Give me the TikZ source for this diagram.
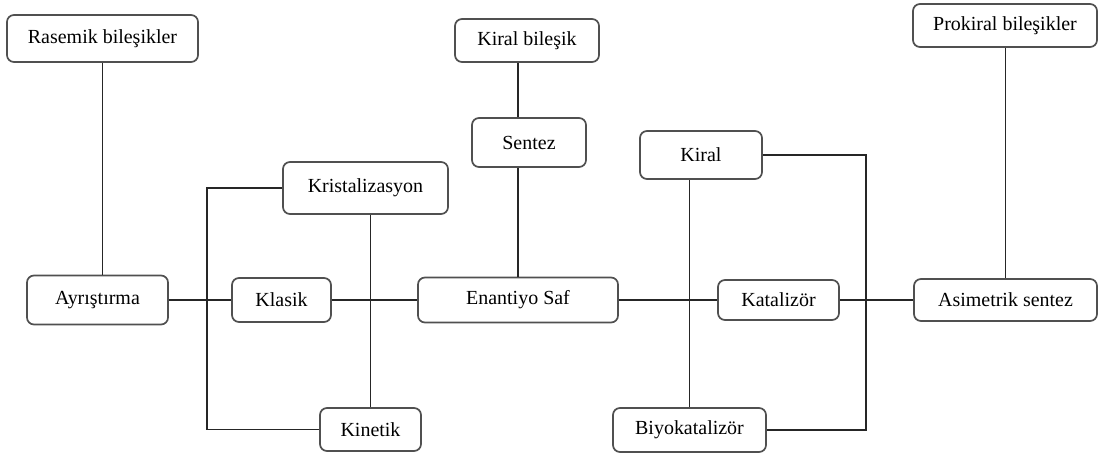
\documentclass[tikz,border=0pt]{standalone}
\usepackage{fontspec}
\setmainfont{Liberation Serif}
\definecolor{boxcol}{RGB}{80, 80, 80}
\tikzset{
  box/.style={draw=boxcol, line width=1.2pt, rounded corners=5pt, fill=white,
              inner sep=2pt, align=center, font=\fontsize{14.2}{17}\selectfont},
  link/.style={line width=1.1pt, black!85},
}

\begin{document}
\begin{tikzpicture}[x=0.025cm, y=-0.025cm]
  \useasboundingbox (0,0) rectangle (1104,453);

  % top row
  \node[box, minimum width=4.775cm, minimum height=1.175cm] (ras) at (102.5,38.5) {Rasemik bileşikler};
  \node[box, minimum width=3.6cm, minimum height=1.075cm] (kbl) at (527,40.5) {Kiral bileşik};
  \node[box, minimum width=4.6cm, minimum height=1.075cm] (pro) at (1005,25.5) {Prokiral bileşikler};
  \node[box, minimum width=2.85cm, minimum height=1.225cm] (sen) at (529,142.5) {Sentez};
  \node[box, minimum width=3.05cm, minimum height=1.2cm] (kir) at (701,155) {Kiral};
  \node[box, minimum width=4.125cm, minimum height=1.3cm] (kri) at (365.5,188) {Kristalizasyon};

  % middle row
  \node[box, minimum width=3.525cm, minimum height=1.225cm] (ays) at (97.5,300) {Ayrıştırma};
  \node[box, minimum width=2.475cm, minimum height=1.1cm] (kla) at (281.5,300) {Klasik};
  \node[box, minimum width=5cm, minimum height=1.125cm] (enf) at (518,300) {Enantiyo Saf};
  \node[box, minimum width=3.025cm, minimum height=1cm] (kat) at (778.5,300) {Katalizör};
  \node[box, minimum width=4.575cm, minimum height=1.05cm] (asi) at (1005.5,300) {Asimetrik sentez};

  % bottom row
  \node[box, minimum width=2.525cm, minimum height=1.075cm] (kin) at (370.5,429.5) {Kinetik};
  \node[box, minimum width=3.825cm, minimum height=1.1cm] (biy) at (689.5,430) {Biyokatalizör};

  \coordinate (lbus) at (207,300);
  \coordinate (rbus) at (866,300);

  \draw[link] (ras.south) -- (ras.south |- ays.north);
  \draw[link] (ays) -- (kla);
  \draw[link] (kla) -- (enf);
  \draw[link] (enf) -- (kat);
  \draw[link] (kat) -- (asi);
  \draw[link] (kri.west) -| (lbus) |- (kin.west);
  \draw[link] (kin.north) -- (kin.north |- kri.south);
  \draw[link] (enf.north) -- (enf.north |- sen.south);
  \draw[link] (enf.north |- sen.north) -- (enf.north |- kbl.south);
  \draw[link] (biy.north) -- (biy.north |- kir.south);
  \draw[link] (kir.east) -| (rbus) |- (biy.east);
  \draw[link] (asi.north) -- (asi.north |- pro.south);
\end{tikzpicture}
\end{document}
